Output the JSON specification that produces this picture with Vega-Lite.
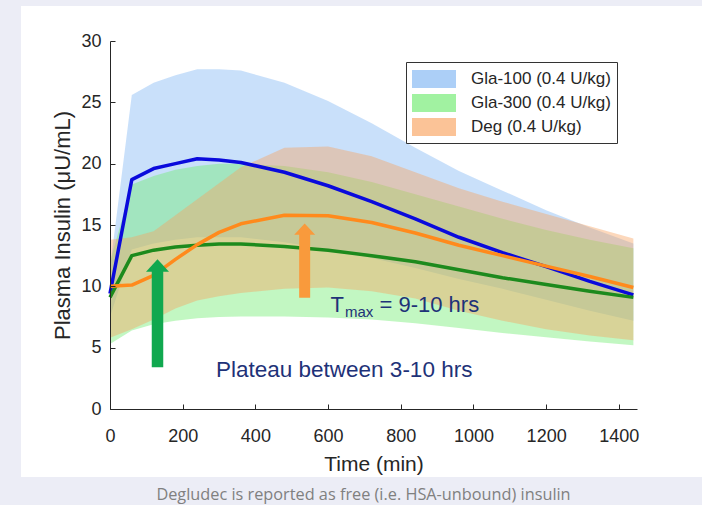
{
  "$schema": "https://vega.github.io/schema/vega-lite/v6.json",
  "width": 527,
  "height": 368,
  "autosize": "none",
  "padding": {"left": 110, "top": 41, "right": 65, "bottom": 96},
  "background": "#ECEDF6",
  "config": {
    "view": {"stroke": null},
    "axis": {
      "grid": false,
      "tickSize": -5,
      "tickColor": "#262626",
      "domainColor": "#262626",
      "labelColor": "#262626",
      "titleColor": "#262626",
      "labelFont": "Liberation Sans",
      "titleFont": "Liberation Sans",
      "labelFontSize": 18,
      "titleFontWeight": 400,
      "labelFlush": false,
      "labelOverlap": false
    },
    "style": {"guide-title": {"fontWeight": 400, "font": "Liberation Sans"}}
  },
  "title": {
    "text": "Degludec is reported as free (i.e. HSA-unbound) insulin",
    "orient": "bottom",
    "anchor": "middle",
    "font": "Open Sans",
    "fontSize": 16.3,
    "fontWeight": "normal",
    "color": "#808080",
    "offset": 10,
    "dx": -10
  },
  "datasets": {
    "pk": [
      {"s": "Gla-100 (0.4 U/kg)", "t": 0, "m": 9.4, "lo": 7.5, "hi": 11.5},
      {"s": "Gla-100 (0.4 U/kg)", "t": 60, "m": 18.7, "lo": 13.0, "hi": 25.6},
      {"s": "Gla-100 (0.4 U/kg)", "t": 120, "m": 19.6, "lo": 13.5, "hi": 26.6},
      {"s": "Gla-100 (0.4 U/kg)", "t": 180, "m": 20.0, "lo": 13.8, "hi": 27.2},
      {"s": "Gla-100 (0.4 U/kg)", "t": 240, "m": 20.4, "lo": 14.0, "hi": 27.7},
      {"s": "Gla-100 (0.4 U/kg)", "t": 300, "m": 20.3, "lo": 14.0, "hi": 27.7},
      {"s": "Gla-100 (0.4 U/kg)", "t": 360, "m": 20.1, "lo": 14.0, "hi": 27.6},
      {"s": "Gla-100 (0.4 U/kg)", "t": 480, "m": 19.3, "lo": 13.6, "hi": 26.6},
      {"s": "Gla-100 (0.4 U/kg)", "t": 600, "m": 18.2, "lo": 13.0, "hi": 25.1},
      {"s": "Gla-100 (0.4 U/kg)", "t": 720, "m": 16.9, "lo": 12.3, "hi": 23.3},
      {"s": "Gla-100 (0.4 U/kg)", "t": 840, "m": 15.5, "lo": 11.5, "hi": 21.3},
      {"s": "Gla-100 (0.4 U/kg)", "t": 960, "m": 14.0, "lo": 10.6, "hi": 19.4},
      {"s": "Gla-100 (0.4 U/kg)", "t": 1080, "m": 12.75, "lo": 9.8, "hi": 17.8},
      {"s": "Gla-100 (0.4 U/kg)", "t": 1200, "m": 11.6, "lo": 8.9, "hi": 16.2},
      {"s": "Gla-100 (0.4 U/kg)", "t": 1320, "m": 10.4, "lo": 8.0, "hi": 14.8},
      {"s": "Gla-100 (0.4 U/kg)", "t": 1440, "m": 9.3, "lo": 7.2, "hi": 13.5},
      {"s": "Gla-300 (0.4 U/kg)", "t": 0, "m": 9.1, "lo": 5.3, "hi": 12.0},
      {"s": "Gla-300 (0.4 U/kg)", "t": 60, "m": 12.5, "lo": 6.4, "hi": 18.3},
      {"s": "Gla-300 (0.4 U/kg)", "t": 120, "m": 12.95, "lo": 6.9, "hi": 19.0},
      {"s": "Gla-300 (0.4 U/kg)", "t": 180, "m": 13.2, "lo": 7.2, "hi": 19.5},
      {"s": "Gla-300 (0.4 U/kg)", "t": 240, "m": 13.35, "lo": 7.4, "hi": 19.8},
      {"s": "Gla-300 (0.4 U/kg)", "t": 300, "m": 13.45, "lo": 7.5, "hi": 20.0},
      {"s": "Gla-300 (0.4 U/kg)", "t": 360, "m": 13.45, "lo": 7.55, "hi": 20.0},
      {"s": "Gla-300 (0.4 U/kg)", "t": 480, "m": 13.25, "lo": 7.55, "hi": 19.8},
      {"s": "Gla-300 (0.4 U/kg)", "t": 600, "m": 12.95, "lo": 7.45, "hi": 19.3},
      {"s": "Gla-300 (0.4 U/kg)", "t": 720, "m": 12.5, "lo": 7.3, "hi": 18.5},
      {"s": "Gla-300 (0.4 U/kg)", "t": 840, "m": 12.0, "lo": 7.0, "hi": 17.5},
      {"s": "Gla-300 (0.4 U/kg)", "t": 960, "m": 11.35, "lo": 6.6, "hi": 16.5},
      {"s": "Gla-300 (0.4 U/kg)", "t": 1080, "m": 10.7, "lo": 6.2, "hi": 15.5},
      {"s": "Gla-300 (0.4 U/kg)", "t": 1200, "m": 10.15, "lo": 5.85, "hi": 14.6},
      {"s": "Gla-300 (0.4 U/kg)", "t": 1320, "m": 9.6, "lo": 5.5, "hi": 13.8},
      {"s": "Gla-300 (0.4 U/kg)", "t": 1440, "m": 9.1, "lo": 5.2, "hi": 13.1},
      {"s": "Deg (0.4 U/kg)", "t": 0, "m": 10.0, "lo": 5.8, "hi": 13.8},
      {"s": "Deg (0.4 U/kg)", "t": 60, "m": 10.1, "lo": 6.5, "hi": 14.0},
      {"s": "Deg (0.4 U/kg)", "t": 120, "m": 10.9, "lo": 7.3, "hi": 14.5},
      {"s": "Deg (0.4 U/kg)", "t": 180, "m": 12.2, "lo": 8.2, "hi": 15.8},
      {"s": "Deg (0.4 U/kg)", "t": 240, "m": 13.4, "lo": 8.85, "hi": 17.1},
      {"s": "Deg (0.4 U/kg)", "t": 300, "m": 14.4, "lo": 9.2, "hi": 18.4},
      {"s": "Deg (0.4 U/kg)", "t": 360, "m": 15.1, "lo": 9.45, "hi": 19.7},
      {"s": "Deg (0.4 U/kg)", "t": 480, "m": 15.8, "lo": 9.8, "hi": 21.3},
      {"s": "Deg (0.4 U/kg)", "t": 600, "m": 15.75, "lo": 9.9, "hi": 21.4},
      {"s": "Deg (0.4 U/kg)", "t": 720, "m": 15.2, "lo": 9.6, "hi": 20.6},
      {"s": "Deg (0.4 U/kg)", "t": 840, "m": 14.35, "lo": 9.0, "hi": 19.3},
      {"s": "Deg (0.4 U/kg)", "t": 960, "m": 13.35, "lo": 8.0, "hi": 18.0},
      {"s": "Deg (0.4 U/kg)", "t": 1080, "m": 12.5, "lo": 7.2, "hi": 16.9},
      {"s": "Deg (0.4 U/kg)", "t": 1200, "m": 11.65, "lo": 6.5, "hi": 15.9},
      {"s": "Deg (0.4 U/kg)", "t": 1320, "m": 10.8, "lo": 6.0, "hi": 14.9},
      {"s": "Deg (0.4 U/kg)", "t": 1440, "m": 9.9, "lo": 5.6, "hi": 13.9}
    ]
  },
  "data": {"name": "pk"},
  "layer": [
    {
      "data": {"values": [{"panel": "background"}]},
      "mark": {"type": "rect", "color": "white"},
      "encoding": {
        "x": {"datum": -245, "type": "quantitative", "scale": {"domain": [0, 1450], "nice": false},
          "axis": {"values": [0, 200, 400, 600, 800, 1000, 1200, 1400], "format": "d", "title": "Time (min)", "labelPadding": 23, "tickSize": -5,
            "titleFont": "Liberation Sans", "titleFontSize": 21, "titleFontWeight": 400, "titlePadding": 8, "zindex": 2}},
        "x2": {"datum": 1630},
        "y": {"datum": -5.55, "type": "quantitative", "scale": {"domain": [0, 30], "nice": false},
          "axis": {"values": [0, 5, 10, 15, 20, 25, 30], "format": "d", "title": "Plasma Insulin (μU/mL)", "labelPadding": 14, "tickSize": -5,
            "titleFont": "Liberation Sans", "titleFontSize": 22, "titleFontWeight": 400, "titlePadding": 6, "zindex": 2}},
        "y2": {"datum": 32.85}
      }
    },
    {
      "transform": [{"filter": "datum.s === 'Gla-100 (0.4 U/kg)'"}],
      "mark": {"type": "area", "opacity": 0.42},
      "encoding": {
        "x": {"field": "t", "type": "quantitative", "title": "Time (min)"},
        "y": {"field": "lo", "type": "quantitative", "title": "Plasma Insulin (μU/mL)"},
        "y2": {"field": "hi"},
        "fill": {"field": "s", "type": "nominal",
          "scale": {"domain": ["Gla-100 (0.4 U/kg)", "Gla-300 (0.4 U/kg)", "Deg (0.4 U/kg)"], "range": ["#7FB6F2", "#6EEB6E", "#F9A35F"]},
          "legend": {"orient": "none", "legendX": 296, "legendY": 21, "title": null, "zindex": 3,
            "symbolType": "M-2,-0.82L2,-0.82L2,0.82L-2,0.82Z", "symbolSize": 484, "symbolOffset": 11,
            "labelOffset": 26, "symbolStrokeWidth": 0, "symbolOpacity": 0.65,
            "labelFontSize": 17, "labelFont": "Liberation Sans", "labelColor": "#262626", "labelLimit": 300,
            "rowPadding": 3, "padding": 6, "strokeColor": "#333333", "fillColor": "white"}}
      }
    },
    {
      "transform": [{"filter": "datum.s === 'Gla-300 (0.4 U/kg)'"}],
      "mark": {"type": "area", "opacity": 0.42},
      "encoding": {
        "x": {"field": "t", "type": "quantitative", "title": "Time (min)"},
        "y": {"field": "lo", "type": "quantitative", "title": "Plasma Insulin (μU/mL)"},
        "y2": {"field": "hi"},
        "fill": {"field": "s", "type": "nominal", "legend": null}
      }
    },
    {
      "transform": [{"filter": "datum.s === 'Deg (0.4 U/kg)'"}],
      "mark": {"type": "area", "opacity": 0.42},
      "encoding": {
        "x": {"field": "t", "type": "quantitative", "title": "Time (min)"},
        "y": {"field": "lo", "type": "quantitative", "title": "Plasma Insulin (μU/mL)"},
        "y2": {"field": "hi"},
        "fill": {"field": "s", "type": "nominal", "legend": null}
      }
    },
    {
      "mark": {"type": "line", "strokeWidth": 3.5, "strokeJoin": "round"},
      "encoding": {
        "x": {"field": "t", "type": "quantitative", "title": "Time (min)"},
        "y": {"field": "m", "type": "quantitative", "title": "Plasma Insulin (μU/mL)"},
        "stroke": {"field": "s", "type": "nominal",
          "scale": {"domain": ["Gla-100 (0.4 U/kg)", "Gla-300 (0.4 U/kg)", "Deg (0.4 U/kg)"], "range": ["#0A0ADC", "#1D8A1D", "#FF8A1C"]},
          "legend": null}
      }
    },
    {
      "data": {"values": [{"arrow": "plateau"}]},
      "mark": {"type": "rule", "strokeWidth": 11.5, "color": "#10A84F"},
      "encoding": {
        "x": {"datum": 130.7, "type": "quantitative", "title": "Time (min)"},
        "y": {"datum": 3.4, "type": "quantitative", "title": "Plasma Insulin (μU/mL)"},
        "y2": {"datum": 11.4}
      }
    },
    {
      "data": {"values": [{"arrow": "plateau"}]},
      "mark": {"type": "point", "shape": "M-1,0.54L1,0.54L0,-0.54Z", "filled": true, "size": 529, "color": "#10A84F", "opacity": 1, "strokeWidth": 0},
      "encoding": {
        "x": {"datum": 130.7, "type": "quantitative", "title": "Time (min)"},
        "y": {"datum": 11.7, "type": "quantitative", "title": "Plasma Insulin (μU/mL)"}
      }
    },
    {
      "data": {"values": [{"arrow": "tmax"}]},
      "mark": {"type": "rule", "strokeWidth": 11, "color": "#F99A3C"},
      "encoding": {
        "x": {"datum": 535.6, "type": "quantitative", "title": "Time (min)"},
        "y": {"datum": 9.07, "type": "quantitative", "title": "Plasma Insulin (μU/mL)"},
        "y2": {"datum": 14.35}
      }
    },
    {
      "data": {"values": [{"arrow": "tmax"}]},
      "mark": {"type": "point", "shape": "M-1,0.54L1,0.54L0,-0.54Z", "filled": true, "size": 441, "color": "#F99A3C", "opacity": 1, "strokeWidth": 0},
      "encoding": {
        "x": {"datum": 535.6, "type": "quantitative", "title": "Time (min)"},
        "y": {"datum": 14.66, "type": "quantitative", "title": "Plasma Insulin (μU/mL)"}
      }
    },
    {
      "data": {"values": [{"label": "Plateau between 3-10 hrs"}]},
      "mark": {"type": "text", "align": "left", "baseline": "alphabetic", "font": "Liberation Sans", "fontSize": 22.5, "color": "#1E3278"},
      "encoding": {
        "text": {"field": "label"},
        "x": {"datum": 291.6, "type": "quantitative", "title": "Time (min)"},
        "y": {"datum": 2.63, "type": "quantitative", "title": "Plasma Insulin (μU/mL)"}
      }
    },
    {
      "data": {"values": [{"label": "T"}]},
      "mark": {"type": "text", "align": "left", "baseline": "alphabetic", "font": "Liberation Sans", "fontSize": 22, "color": "#1E3278"},
      "encoding": {
        "text": {"field": "label"},
        "x": {"datum": 607, "type": "quantitative", "title": "Time (min)"},
        "y": {"datum": 7.93, "type": "quantitative", "title": "Plasma Insulin (μU/mL)"}
      }
    },
    {
      "data": {"values": [{"label": "max"}]},
      "mark": {"type": "text", "align": "left", "baseline": "alphabetic", "font": "Liberation Sans", "fontSize": 15, "color": "#1E3278"},
      "encoding": {
        "text": {"field": "label"},
        "x": {"datum": 646.5, "type": "quantitative", "title": "Time (min)"},
        "y": {"datum": 7.52, "type": "quantitative", "title": "Plasma Insulin (μU/mL)"}
      }
    },
    {
      "data": {"values": [{"label": "= 9-10 hrs"}]},
      "mark": {"type": "text", "align": "left", "baseline": "alphabetic", "font": "Liberation Sans", "fontSize": 22, "color": "#1E3278"},
      "encoding": {
        "text": {"field": "label"},
        "x": {"datum": 741.4, "type": "quantitative", "title": "Time (min)"},
        "y": {"datum": 7.93, "type": "quantitative", "title": "Plasma Insulin (μU/mL)"}
      }
    }
  ]
}
